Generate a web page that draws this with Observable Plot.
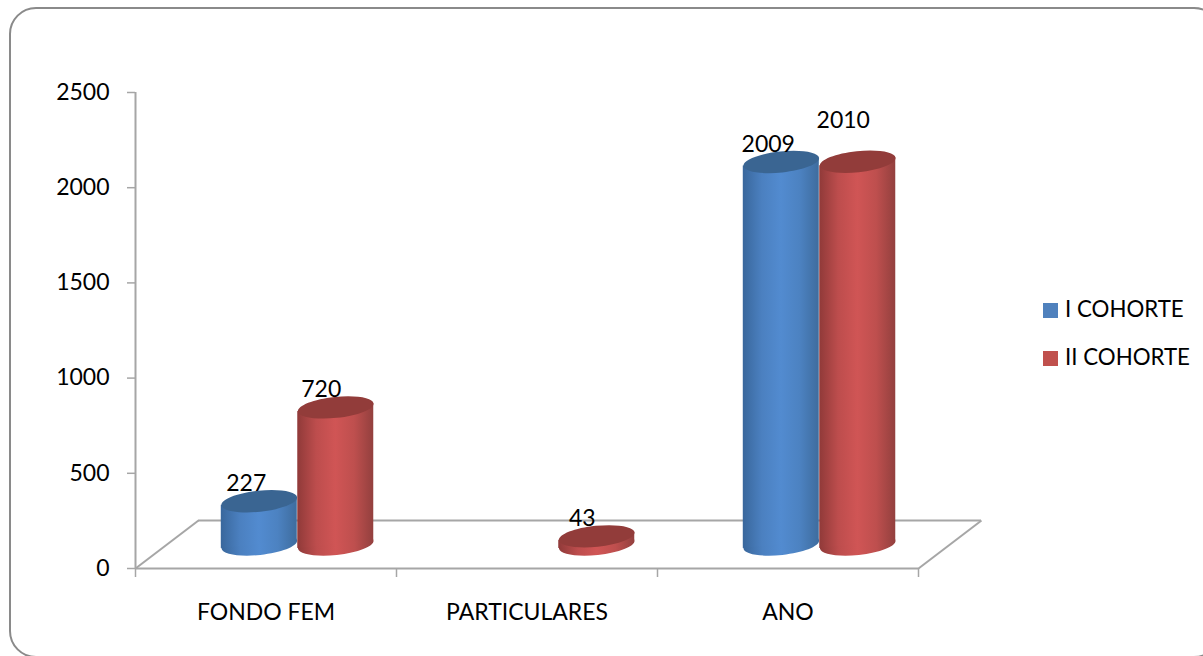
<!DOCTYPE html>
<html>
<head>
<meta charset="utf-8">
<script src="https://cdn.jsdelivr.net/npm/d3@7"></script>
<script src="https://cdn.jsdelivr.net/npm/@observablehq/plot@0.6"></script>
<style>
  html, body { margin: 0; padding: 0; background: #fff; }
  #page { position: relative; width: 1203px; height: 656px; overflow: hidden; font-family: Lato, sans-serif; }
  #card { position: absolute; left: 9px; top: 7px; width: 1212px; height: 651px; box-sizing: border-box;
          border: 2px solid #8a8a8a; border-radius: 27px; }
  #chart { position: absolute; left: 0; top: 0; }
  #chart svg { display: block; background: transparent; overflow: visible; }
  .key { position: absolute; left: 1043px; font-size: 22.3px; line-height: 26px; color: #000; white-space: nowrap; }
  .key i { display: inline-block; width: 15px; height: 15px; margin-right: 7px; vertical-align: -1px; }
</style>
</head>
<body>
<div id="page">
  <div id="card"></div>
  <div id="chart"></div>
  <div class="key" style="top:296px"><i style="background:#4f81bd"></i>I COHORTE</div>
  <div class="key" style="top:344px"><i style="background:#c0504d"></i>II COHORTE</div>
</div>
<script>
const categories = ["FONDO FEM", "PARTICULARES", "ANO"];
const cohortOne = [227, null, 2009];
const cohortTwo = [720, 43, 2010];
const seriesNames = ["I COHORTE", "II COHORTE"];
const yTicks = [0, 500, 1000, 1500, 2000, 2500];
const xBoundaries = [0, 1, 2, 3];
const labelLift = [[0, 0, 0], [0, 0, 24]];

const W = 1203, H = 656;
const FS = 23;
const grey = "#a6a6a6";
const DX = 31, DY = -24;            // cylinders stand mid-way along the floor's depth
const barW = 0.297;                 // cylinder width, in category units
const floorDX = 63, floorDY = -48;  // floor depth, px
const RX = 38, RY = 10.5, TILT = -6 * Math.PI / 180;
const tiltUnits = 21;               // y drop of the left tangent, in value units

const rows = [];
[cohortOne, cohortTwo].forEach((vals, s) => vals.forEach((v, c) => {
  if (v != null) rows.push({series: seriesNames[s], s, c, v, cx: c + 0.5 + (s === 0 ? -barW / 2 + 0.004 : barW / 2), lift: labelLift[s][c]});
}));

// tilted ellipse symbol
const ellipse = {
  draw(ctx) {
    const k = 0.5523, cos = Math.cos(TILT), sin = Math.sin(TILT);
    const p = (x, y) => [x * cos - y * sin, x * sin + y * cos];
    const seg = (a, b, c) => ctx.bezierCurveTo(...p(...a), ...p(...b), ...p(...c));
    ctx.moveTo(...p(RX, 0));
    seg([RX, k * RY], [k * RX, RY], [0, RY]);
    seg([-k * RX, RY], [-RX, k * RY], [-RX, 0]);
    seg([-RX, -k * RY], [-k * RX, -RY], [0, -RY]);
    seg([k * RX, -RY], [RX, -k * RY], [RX, 0]);
    ctx.closePath();
  }
};

function gradients() {
  const svg = d3.create("svg:defs");
  const add = (id, edge, mid, edge2) => {
    const g = svg.append("linearGradient").attr("id", id).attr("x1", 0).attr("x2", 1).attr("y1", 0).attr("y2", 0);
    [[0, edge], [0.25, d3.interpolateRgb(edge, mid)(0.7)], [0.5, mid], [0.75, d3.interpolateRgb(edge2, mid)(0.7)], [1, edge2]]
      .forEach(([o, c]) => g.append("stop").attr("offset", o).attr("stop-color", c));
  };
  add("bodyBlue", "#39679c", "#528bd0", "#3e6c9e");
  add("bodyRed", "#903a39", "#d05555", "#93403e");
  return svg.node();
}

const cylinderMarks = [0, 1].flatMap(s => {
  const data = rows.filter(r => r.s === s);
  const grad = s === 0 ? "url(#bodyBlue)" : "url(#bodyRed)";
  const cap = s === 0 ? "#3a6592" : "#923c3a";
  const half = RX / ((W - 135 - 285) / 3);
  const outline = data.flatMap(r => [
    {c: r.c, x: r.cx - half, y1: -tiltUnits, y2: r.v - tiltUnits},
    {c: r.c, x: r.cx + half, y1: tiltUnits, y2: r.v + tiltUnits}
  ]);
  return [
    Plot.dot(data, {x: "cx", y: () => 0, symbol: ellipse, r: 10, fill: grad, stroke: "none", dx: DX, dy: DY}),
    Plot.areaY(outline, {x: "x", y1: "y1", y2: "y2", z: "c", fill: grad, dx: DX, dy: DY}),
    Plot.dot(data, {x: "cx", y: "v", symbol: ellipse, r: 10, fill: cap, stroke: "none", dx: DX, dy: DY})
  ];
});

const valueLabel = (data, dx, dy) => Plot.text(data, {x: "cx", y: "v", text: d => String(d.v), dx, dy, fontSize: FS, fill: "#000"});

const floorDepthX = floorDX / ((W - 135 - 285) / 3);
const floorDepthY = -floorDY / ((H - 92 - 88) / 2500);

const chart = Plot.plot({
  width: W,
  height: H,
  marginLeft: 135,
  marginRight: 285,
  marginTop: 92,
  marginBottom: 88,
  style: {background: "transparent", fontFamily: "Lato, sans-serif", fontSize: FS + "px", color: "#000"},
  x: {type: "linear", domain: [0, 3], axis: null},
  y: {type: "linear", domain: [0, 2500]},
  marks: [
    () => gradients(),
    // floor
    Plot.ruleY([0], {x1: 0, x2: 3, stroke: grey, strokeWidth: 2, dx: floorDX, dy: floorDY}),
    Plot.link([0, 3], {x1: d => d, y1: () => 0, x2: d => d + floorDepthX, y2: () => floorDepthY, stroke: grey, strokeWidth: 2}),
    // axes
    Plot.ruleY([0], {x1: 0, x2: 3, stroke: grey, strokeWidth: 2}),
    Plot.ruleX([0], {y1: 0, y2: 2500, stroke: grey, strokeWidth: 2}),
    Plot.axisX({ticks: xBoundaries, tickSize: 9, tickFormat: () => "", stroke: grey, strokeWidth: 1.5, label: null}),
    Plot.axisY({ticks: yTicks, tickSize: 8, tickPadding: 18, stroke: grey, strokeWidth: 1.5, fill: "#000", label: null, tickFormat: d => String(d), fontSize: FS}),
    ...cylinderMarks,
    // category labels
    Plot.text(categories, {x: (d, i) => i + 0.5, y: () => 0, text: d => d, dy: 44, fontSize: FS, fill: "#000"}),
    // value labels (the 2010 label sits higher in the reference)
    valueLabel(rows.filter(r => r.s === 0), 18, -41.5),
    valueLabel(rows.filter(r => r.s === 1 && !r.lift), 16.5, -41.5),
    valueLabel(rows.filter(r => r.lift), 16.5, -65.5)
  ]
});
document.getElementById("chart").appendChild(chart);
</script>
</body>
</html>
